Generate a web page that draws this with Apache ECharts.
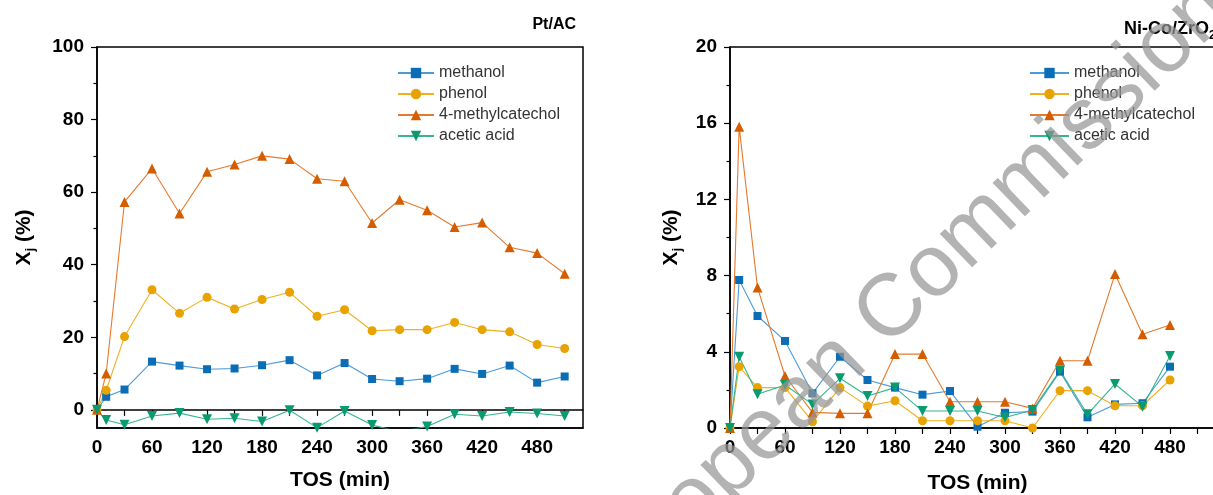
<!DOCTYPE html>
<html><head><meta charset="utf-8">
<script src="https://cdn.jsdelivr.net/npm/echarts@6/dist/echarts.min.js"></script>
<style>html,body{margin:0;padding:0;background:#fff}#c{width:1213px;height:495px}</style>
</head><body><div id="c"></div>
<script>
// ---------- data ----------
const seriesNames = ['methanol', 'phenol', '4-methylcatechol', 'acetic acid'];

const tosPt = [0, 10, 30, 60, 90, 120, 150, 180, 210, 240, 270, 300, 330, 360, 390, 420, 450, 480, 510];
const ptMethanol = [0, 3.6, 5.6, 13.3, 12.2, 11.2, 11.4, 12.3, 13.7, 9.5, 12.9, 8.5, 7.9, 8.6, 11.3, 9.9, 12.2, 7.5, 9.2];
const ptPhenol = [0, 5.4, 20.2, 33.1, 26.6, 31.0, 27.8, 30.4, 32.4, 25.8, 27.6, 21.8, 22.1, 22.1, 24.1, 22.1, 21.5, 18.0, 16.9];
const ptMethylcatechol = [0, 10.0, 57.3, 66.5, 54.1, 65.6, 67.6, 70.0, 69.1, 63.7, 63.0, 51.5, 57.9, 55.0, 50.4, 51.6, 44.8, 43.2, 37.5];
const ptAceticAcid = [0, -2.8, -4.1, -1.7, -0.9, -2.6, -2.3, -3.2, -0.1, -4.9, -0.3, -4.2, -6.0, -4.6, -1.2, -1.7, -0.6, -1.0, -1.7];

const tosNiCo = [0, 10, 30, 60, 90, 120, 150, 180, 210, 240, 270, 300, 330, 360, 390, 420, 450, 480];
const nicoMethanol = [0, 7.77, 5.88, 4.57, 1.82, 3.74, 2.52, 2.12, 1.75, 1.94, 0.07, 0.80, 0.86, 2.96, 0.56, 1.24, 1.30, 3.22];
const nicoPhenol = [0, 3.22, 2.12, 2.12, 0.33, 2.12, 1.15, 1.43, 0.38, 0.38, 0.38, 0.38, 0.0, 1.96, 1.96, 1.17, 1.17, 2.52];
const nicoMethylcatechol = [0, 15.82, 7.37, 2.73, 0.82, 0.77, 0.77, 3.88, 3.88, 1.38, 1.38, 1.38, 1.03, 3.53, 3.53, 8.08, 4.92, 5.41];
const nicoAceticAcid = [0, 3.74, 1.77, 2.26, 1.24, 2.61, 1.68, 2.12, 0.89, 0.89, 0.89, 0.55, 0.94, 3.01, 0.72, 2.31, 1.12, 3.78];

const xTickValues = [0, 30, 60, 90, 120, 150, 180, 210, 240, 270, 300, 330, 360, 390, 420, 450, 480, 510];
const xLabelValues = [0, 60, 120, 180, 240, 300, 360, 420, 480];
const ptYLabelValues = [0, 20, 40, 60, 80, 100];
const ptYMinorValues = [10, 30, 50, 70, 90];
const nicoYLabelValues = [0, 4, 8, 12, 16, 20];
const nicoYMinorValues = [2, 6, 10, 14, 18];

// ---------- styles ----------
const FONT = 'Liberation Sans';
const styleByName = {
  'methanol':         { symbol: 'rect',     size: 8,  rotate: 0,   color: '#0b6db5', line: '#4c9ad6' },
  'phenol':           { symbol: 'circle',   size: 9,  rotate: 0,   color: '#e8a202', line: '#f0b020' },
  '4-methylcatechol': { symbol: 'triangle', size: 10, rotate: 0,   color: '#d65c00', line: '#e57a2e' },
  'acetic acid':      { symbol: 'triangle', size: 10, rotate: 180, color: '#0a9a70', line: '#34b58e' }
};

function pairs(xs, ys) { return xs.map((x, i) => [x, ys[i]]); }
function mkSeries(name, xs, ys, xi, yi) {
  const s = styleByName[name];
  return {
    name, type: 'line', xAxisIndex: xi, yAxisIndex: yi,
    data: pairs(xs, ys),
    symbol: s.symbol, symbolSize: s.size, symbolRotate: s.rotate,
    itemStyle: { color: s.color },
    lineStyle: { color: s.line, width: 1.1 },
    clip: true, animation: false, z: 3
  };
}

const ptSets = [ptMethanol, ptPhenol, ptMethylcatechol, ptAceticAcid];
const nicoSets = [nicoMethanol, nicoPhenol, nicoMethylcatechol, nicoAceticAcid];
const series = [];
seriesNames.forEach((n, i) => series.push(mkSeries(n, tosPt, ptSets[i], 0, 0)));
seriesNames.forEach((n, i) => series.push(mkSeries(n, tosNiCo, nicoSets[i], 2, 2)));

const labelStyle = { fontFamily: FONT, fontWeight: 'bold', fontSize: 19, color: '#000' };
const lineStyle = { color: '#000', width: 1.5 };
const tickLine = { color: '#000', width: 1.2 };
const yName = '{b|X}{s|j}{b| (%)}';
const yNameRich = {
  b: { fontFamily: FONT, fontWeight: 'bold', fontSize: 21, lineHeight: 26, color: '#000' },
  s: { fontFamily: FONT, fontWeight: 'bold', fontSize: 13, lineHeight: 13, verticalAlign: 'bottom', color: '#000' }
};
const xNameStyle = { fontFamily: FONT, fontWeight: 'bold', fontSize: 21, color: '#000' };

const option = {
  backgroundColor: '#fff',
  animation: false,
  grid: [
    { left: 97, top: 47, width: 486, height: 381, outerBoundsMode: 'none', containLabel: false,
      show: true, borderColor: '#000', borderWidth: 1.5, backgroundColor: 'transparent' },
    { left: 730, top: 47, width: 495, height: 381, outerBoundsMode: 'none', containLabel: false,
      show: true, borderColor: '#000', borderWidth: 1.5, backgroundColor: 'transparent' }
  ],
  xAxis: [
    { gridIndex: 0, type: 'value', position: 'bottom', min: 0, max: 530,
      axisLine: { show: true, onZero: false, lineStyle },
      axisTick: { show: false },
      axisLabel: Object.assign({ customValues: xLabelValues, margin: 10 }, labelStyle),
      splitLine: { show: false },
      name: 'TOS (min)', nameLocation: 'middle', nameGap: 42, nameTextStyle: xNameStyle },
    { gridIndex: 0, type: 'value', position: 'bottom', min: 0, max: 530,
      axisLine: { show: true, onZero: true, onZeroAxisIndex: 0, lineStyle },
      axisTick: { show: true, customValues: xTickValues, length: 6, lineStyle: tickLine },
      axisLabel: { show: false },
      splitLine: { show: false } },
    { gridIndex: 1, type: 'value', position: 'bottom', min: 0, max: 540,
      axisLine: { show: true, onZero: false, lineStyle },
      axisTick: { show: true, customValues: xTickValues, length: 6, lineStyle: tickLine },
      axisLabel: Object.assign({ customValues: xLabelValues, margin: 10 }, labelStyle),
      splitLine: { show: false },
      name: 'TOS (min)', nameLocation: 'middle', nameGap: 45, nameTextStyle: xNameStyle }
  ],
  yAxis: [
    { gridIndex: 0, type: 'value', position: 'left', min: -5, max: 100,
      axisLine: { show: true, onZero: false, lineStyle },
      axisTick: { show: true, customValues: ptYLabelValues, length: 6, lineStyle: tickLine },
      axisLabel: Object.assign({ customValues: ptYLabelValues, margin: 13 }, labelStyle),
      splitLine: { show: false },
      name: yName, nameLocation: 'middle', nameRotate: 90, nameGap: 60,
      nameTextStyle: { rich: yNameRich } },
    { gridIndex: 0, type: 'value', position: 'left', min: -5, max: 100,
      axisLine: { show: false, onZero: false },
      axisTick: { show: true, customValues: ptYMinorValues, length: 3.5, lineStyle: tickLine },
      axisLabel: { show: false }, splitLine: { show: false } },
    { gridIndex: 1, type: 'value', position: 'left', min: 0, max: 20,
      axisLine: { show: true, onZero: false, lineStyle },
      axisTick: { show: true, customValues: nicoYLabelValues, length: 6, lineStyle: tickLine },
      axisLabel: Object.assign({ customValues: nicoYLabelValues, margin: 13 }, labelStyle),
      splitLine: { show: false },
      name: yName, nameLocation: 'middle', nameRotate: 90, nameGap: 46,
      nameTextStyle: { rich: yNameRich } },
    { gridIndex: 1, type: 'value', position: 'left', min: 0, max: 20,
      axisLine: { show: false, onZero: false },
      axisTick: { show: true, customValues: nicoYMinorValues, length: 3.5, lineStyle: tickLine },
      axisLabel: { show: false }, splitLine: { show: false } }
  ],
  legend: [
    { data: seriesNames, orient: 'vertical', left: 392, top: 60, itemWidth: 36, itemHeight: 13, itemGap: 5,
      selectedMode: false, textStyle: { fontFamily: FONT, fontSize: 16, color: '#333' } },
    { data: seriesNames, orient: 'vertical', left: 1024, top: 60, itemWidth: 39, itemHeight: 13, itemGap: 5,
      selectedMode: false, textStyle: { fontFamily: FONT, fontSize: 16, color: '#333' } }
  ],
  graphic: [
    { type: 'text', z: 10, style: { text: 'Pt/AC', x: 576, y: 25, textAlign: 'right', textVerticalAlign: 'middle',
      font: 'bold 16px "Liberation Sans"', fill: '#000' } },
    { type: 'text', z: 10, style: { text: 'Ni-Co/ZrO', x: 1124, y: 29, textAlign: 'left', textVerticalAlign: 'middle',
      font: 'bold 18px "Liberation Sans"', fill: '#000' } },
    { type: 'text', z: 10, style: { text: '2', x: 1209, y: 36, textAlign: 'left', textVerticalAlign: 'middle',
      font: 'bold 12px "Liberation Sans"', fill: '#000' } },
    { type: 'text', z: 20, x: 898, y: 305, rotation: 44 * Math.PI / 180,
      style: { text: 'European Commission', x: 0, y: 0, textAlign: 'center', textVerticalAlign: 'middle',
        font: '88px "Liberation Sans"', fill: 'rgba(150,150,150,0.72)' } }
  ],
  series
};

const chart = echarts.init(document.getElementById('c'), null, { renderer: 'canvas' });
chart.setOption(option);
</script>
</body></html>
